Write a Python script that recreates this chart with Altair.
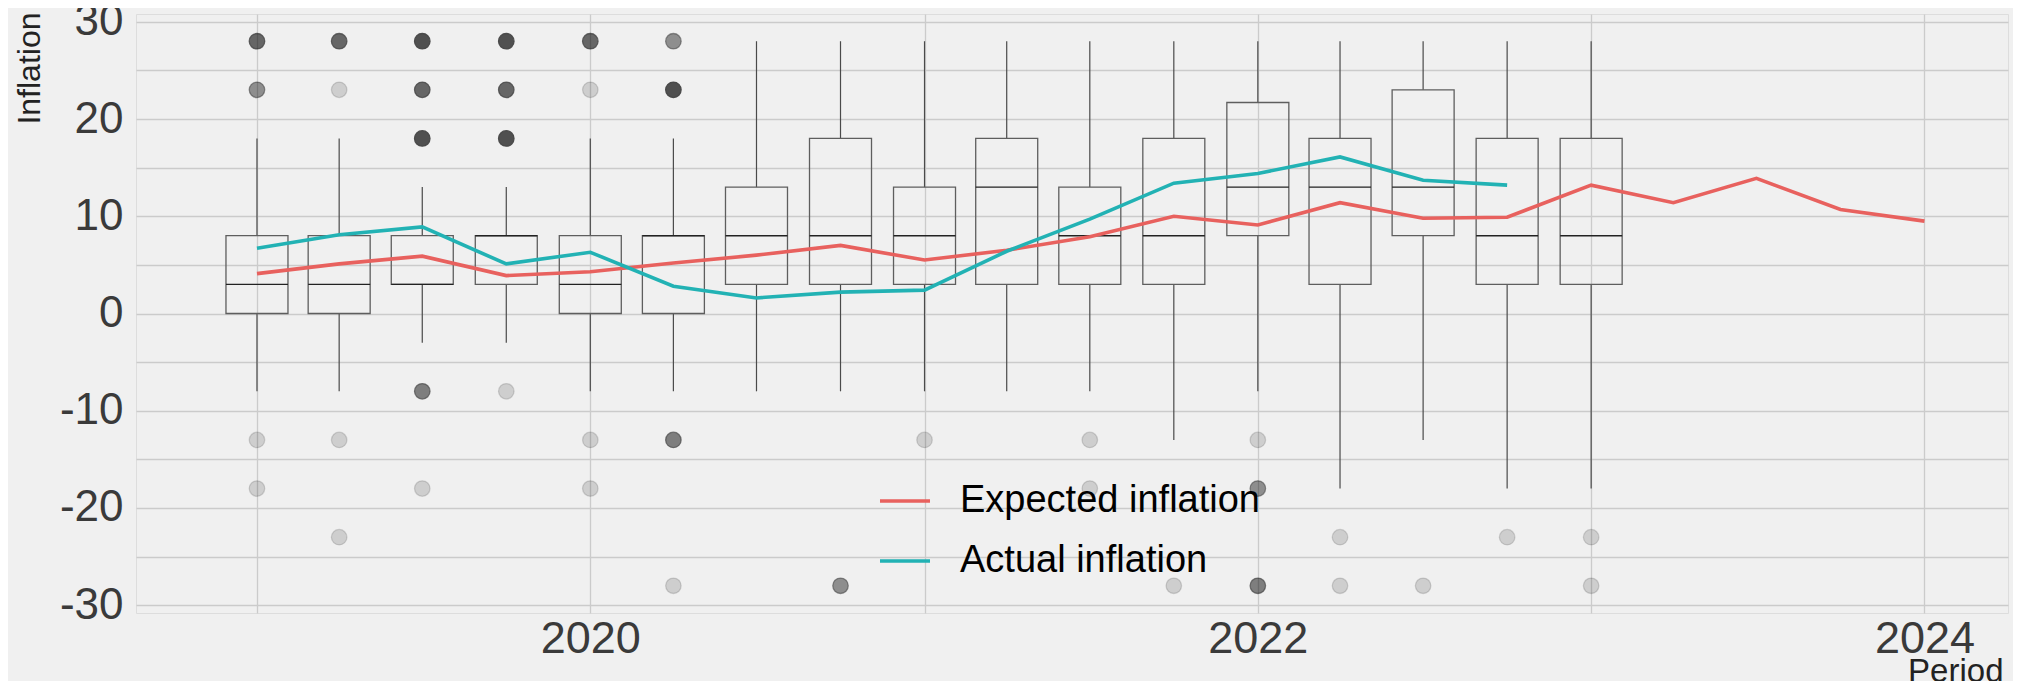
import altair as alt
import pandas as pd

# ---- data ----
box_dates = ["2019-01-01", "2019-04-01", "2019-07-01", "2019-10-01",
             "2020-01-01", "2020-04-01", "2020-07-01", "2020-10-01",
             "2021-01-01", "2021-04-01", "2021-07-01", "2021-10-01",
             "2022-01-01", "2022-04-01", "2022-07-01", "2022-10-01",
             "2023-01-01"]
box_lo = [-8, -8, -3, -3, -8, -8, -8, -8, -8, -8, -8, -13, -8, -18, -13, -18, -18]
box_q1 = [0, 0, 3, 3, 0, 0, 3, 3, 3, 3, 3, 3, 8, 3, 8, 3, 3]
box_med = [3, 3, 3, 8, 3, 8, 8, 8, 8, 13, 8, 8, 13, 13, 13, 8, 8]
box_q3 = [8, 8, 8, 8, 8, 8, 13, 18, 13, 18, 13, 18, 21.7, 18, 23, 18, 18]
box_hi = [18, 18, 13, 13, 18, 18, 28, 28, 28, 28, 28, 28, 28, 28, 28, 28, 28]

out_dates = ["2019-01-01", "2019-01-01", "2019-01-01", "2019-01-01",
             "2019-04-01", "2019-04-01", "2019-04-01", "2019-04-01",
             "2019-07-01", "2019-07-01", "2019-07-01", "2019-07-01", "2019-07-01",
             "2019-10-01", "2019-10-01", "2019-10-01", "2019-10-01",
             "2020-01-01", "2020-01-01", "2020-01-01", "2020-01-01",
             "2020-04-01", "2020-04-01", "2020-04-01", "2020-04-01",
             "2020-10-01", "2021-01-01", "2021-07-01", "2021-07-01", "2021-10-01",
             "2022-01-01", "2022-01-01", "2022-01-01",
             "2022-04-01", "2022-04-01", "2022-07-01", "2022-10-01",
             "2023-01-01", "2023-01-01"]
out_vals = [28, 23, -13, -18,
            28, 23, -13, -23,
            28, 23, 18, -8, -18,
            28, 23, 18, -8,
            28, 23, -13, -18,
            28, 23, -13, -28,
            -28, -13, -13, -18, -28,
            -13, -18, -28,
            -23, -28, -28, -23,
            -23, -28]
out_counts = [6, 3, 1, 1,
              6, 1, 1, 1,
              9, 6, 9, 4, 1,
              9, 6, 9, 1,
              6, 1, 1, 1,
              3, 9, 4, 1,
              3, 1, 1, 1, 1,
              1, 3, 4,
              1, 1, 1, 1,
              1, 1]

line_dates = ["2019-01-01", "2019-04-01", "2019-07-01", "2019-10-01",
              "2020-01-01", "2020-04-01", "2020-07-01", "2020-10-01",
              "2021-01-01", "2021-04-01", "2021-07-01", "2021-10-01",
              "2022-01-01", "2022-04-01", "2022-07-01", "2022-10-01",
              "2023-01-01", "2023-04-01", "2023-07-01", "2023-10-01",
              "2024-01-01"]
expected = [4.1, 5.1, 5.9, 3.9, 4.3, 5.2, 6.0, 7.0, 5.5, 6.5, 7.9, 10.0,
            9.1, 11.4, 9.8, 9.9, 13.2, 11.4, 13.9, 10.7, 9.5]
actual = [6.7, 8.1, 8.9, 5.1, 6.3, 2.8, 1.6, 2.2, 2.4, 6.4, 9.7, 13.4,
          14.4, 16.1, 13.7, 13.2]

series_names = ["Expected inflation", "Actual inflation"]
series_colors = ["#E8615E", "#22B2B4"]
year_ticks = [2019, 2020, 2021, 2022, 2023, 2024]

# ---- tables ----
boxes = pd.DataFrame({"date": box_dates, "lo": box_lo, "q1": box_q1,
                      "med": box_med, "q3": box_q3, "hi": box_hi})
outliers = pd.DataFrame({"date": out_dates, "val": out_vals, "n": out_counts})
lines = pd.concat([
    pd.DataFrame({"date": line_dates[:len(expected)], "val": expected,
                  "series": series_names[0]}),
    pd.DataFrame({"date": line_dates[:len(actual)], "val": actual,
                  "series": series_names[1]}),
], ignore_index=True)

FONT = "Liberation Sans"
GRID = "#cbcbcb"

xscale = alt.Scale(type="utc", domain=[
    alt.DateTime(year=2018, month=8, date=27, utc=True),
    alt.DateTime(year=2024, month=3, date=27, utc=True)])
xaxis = alt.Axis(
    values=[alt.DateTime(year=y, month=1, date=1, utc=True) for y in year_ticks],
    labelExpr="utcyear(datum.value) % 2 == 0 ? utcFormat(datum.value, '%Y') : ''",
    grid=True, gridColor=GRID, gridWidth=1.3, domain=False, ticks=False,
    labelFontSize=45, labelColor="#3a3a3a", labelPadding=3, labelFont=FONT,
    title="Period", titleFontSize=33, titleFontWeight="normal", titleColor="#222222",
    titleAnchor="end", titleAlign="right", titleX=1867, titleY=68,
    titleBaseline="alphabetic", titleFont=FONT)

yscale = alt.Scale(domain=[-30.8, 30.8], nice=False, zero=False)
yaxis = alt.Axis(
    values=list(range(-30, 31, 5)),
    labelExpr="datum.value % 10 == 0 ? toString(datum.value) : ''",
    grid=True, gridColor=GRID, gridWidth=1.3, domain=False, ticks=False,
    labelFontSize=44, labelColor="#3a3a3a", labelPadding=13, labelFont=FONT,
    title="Inflation", titleFontSize=32, titleFontWeight="normal", titleColor="#222222",
    titleAngle=270, titleAlign="right", titleBaseline="middle",
    titleX=-107, titleY=-2, titleFont=FONT)


def X():
    return alt.X("date:T", scale=xscale, axis=xaxis)


def Y(field):
    return alt.Y(f"{field}:Q", scale=yscale, axis=yaxis)


whisk_lo = alt.Chart(boxes).mark_rule(color="#4a4a4a", strokeWidth=1.2).encode(
    x=X(), y=Y("lo"), y2="q1:Q")
whisk_hi = alt.Chart(boxes).mark_rule(color="#4a4a4a", strokeWidth=1.2).encode(
    x=X(), y=Y("q3"), y2="hi:Q")
box = alt.Chart(boxes).mark_bar(size=62, fill="#f0f0f0", fillOpacity=0,
                                 stroke="#5e5e5e", strokeWidth=1.3).encode(
    x=X(), y=Y("q1"), y2="q3:Q")
median = alt.Chart(boxes).mark_bar(size=62, fillOpacity=0, stroke="#222222",
                                    strokeWidth=1.4).encode(
    x=X(), y=Y("med"), y2="med:Q")

opac = alt.Scale(type="log", domain=[1, 9], range=[0.2, 0.95])
points = alt.Chart(outliers).mark_circle(size=240, color="black", stroke="black",
                                         strokeWidth=1.3).encode(
    x=X(), y=Y("val"),
    fillOpacity=alt.FillOpacity("n:Q", scale=opac, legend=None),
    strokeOpacity=alt.StrokeOpacity("n:Q", scale=opac, legend=None))

line = alt.Chart(lines).mark_line(strokeWidth=3.6).encode(
    x=X(), y=Y("val"),
    color=alt.Color("series:N",
                    scale=alt.Scale(domain=series_names, range=series_colors),
                    sort=series_names,
                    legend=alt.Legend(title=None, orient="none", legendX=742, legendY=460,
                                      labelFontSize=38, labelColor="black", labelFont=FONT,
                                      labelLimit=0,
                                      symbolType="stroke", symbolSize=2500,
                                      symbolStrokeWidth=3.6, labelOffset=28,
                                      rowPadding=14, padding=0)),
    detail="series:N")

chart = alt.layer(whisk_lo, whisk_hi, box, median, points, line).properties(
    width=1872, height=599,
    autosize=alt.AutoSizeParams(type="none"),
    padding={"left": 128, "top": 6, "right": 5, "bottom": 68},
    background="#f0f0f0",
).configure_view(stroke=None).configure(font=FONT)

chart.save("out.html", embed_options={"renderer": "svg", "actions": False})
